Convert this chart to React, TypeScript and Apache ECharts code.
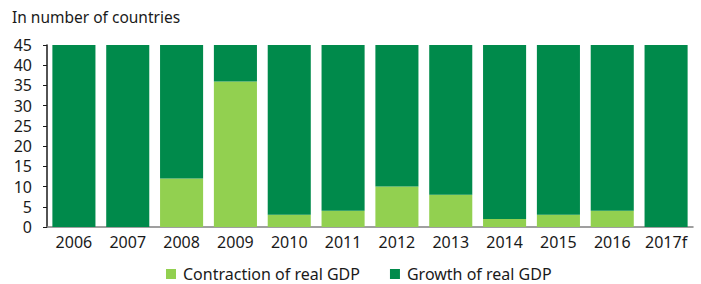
import React, { useEffect, useRef } from "react";
import * as echarts from "echarts";

const categories = ["2006", "2007", "2008", "2009", "2010", "2011", "2012", "2013", "2014", "2015", "2016", "2017f"];
const contraction = [0, 0, 12, 36, 3, 4, 10, 8, 2, 3, 4, 0];
const growth = [45.2, 45.2, 33, 9, 42, 41, 35, 37, 43.2, 42, 41, 45.2];
const yTicks = [0, 5, 10, 15, 20, 25, 30, 35, 40, 45];

const FONT = "'Noto Sans', 'Open Sans', sans-serif";

export default function App() {
  const ref = useRef<HTMLDivElement>(null);
  useEffect(() => {
    if (!ref.current) return;
    const chart = echarts.init(ref.current, null, { renderer: "svg" });
    chart.setOption({
      animation: false,
      textStyle: { fontFamily: FONT },
      title: {
        text: "In number of countries",
        left: 7,
        top: 4,
        textStyle: { fontSize: 15.5, fontWeight: "normal", color: "#1a1a1a", fontFamily: FONT },
      },
      grid: { left: 47, right: 8, top: 45, bottom: 57 },
      legend: {
        left: 166,
        top: 266,
        padding: 0,
        itemWidth: 10,
        itemHeight: 10,
        itemGap: 30,
        icon: "rect",
        textStyle: { fontSize: 16, color: "#1a1a1a", fontFamily: FONT, padding: [0, 0, 0, 2] },
        data: ["Contraction of real GDP", "Growth of real GDP"],
      },
      xAxis: {
        type: "category",
        data: categories,
        axisLine: { lineStyle: { color: "#808080", width: 1.5 } },
        axisTick: { show: false },
        axisLabel: { fontSize: 16, color: "#1a1a1a", margin: 7, fontFamily: FONT, interval: 0, hideOverlap: false },
      },
      yAxis: {
        type: "value",
        min: 0,
        max: 45,
        interval: 5,
        axisLine: { show: true, lineStyle: { color: "#1a1a1a", width: 1.5 } },
        axisTick: { show: true, length: 4, lineStyle: { color: "#1a1a1a" } },
        splitLine: { show: false },
        axisLabel: {
          fontSize: 16,
          color: "#1a1a1a",
          margin: 15,
          fontFamily: FONT,
          formatter: (v: number) => (yTicks.includes(v) ? String(v) : ""),
        },
      },
      series: [
        {
          name: "Contraction of real GDP",
          type: "bar",
          stack: "total",
          data: contraction,
          barCategoryGap: "20%",
          itemStyle: { color: "#92D050" },
        },
        {
          name: "Growth of real GDP",
          type: "bar",
          stack: "total",
          data: growth,
          barCategoryGap: "20%",
          itemStyle: { color: "#008A4B" },
        },
      ],
    });
    return () => chart.dispose();
  }, []);
  return <div ref={ref} style={{ width: 701, height: 284, position: "absolute", left: 0, top: 0 }} />;
}
